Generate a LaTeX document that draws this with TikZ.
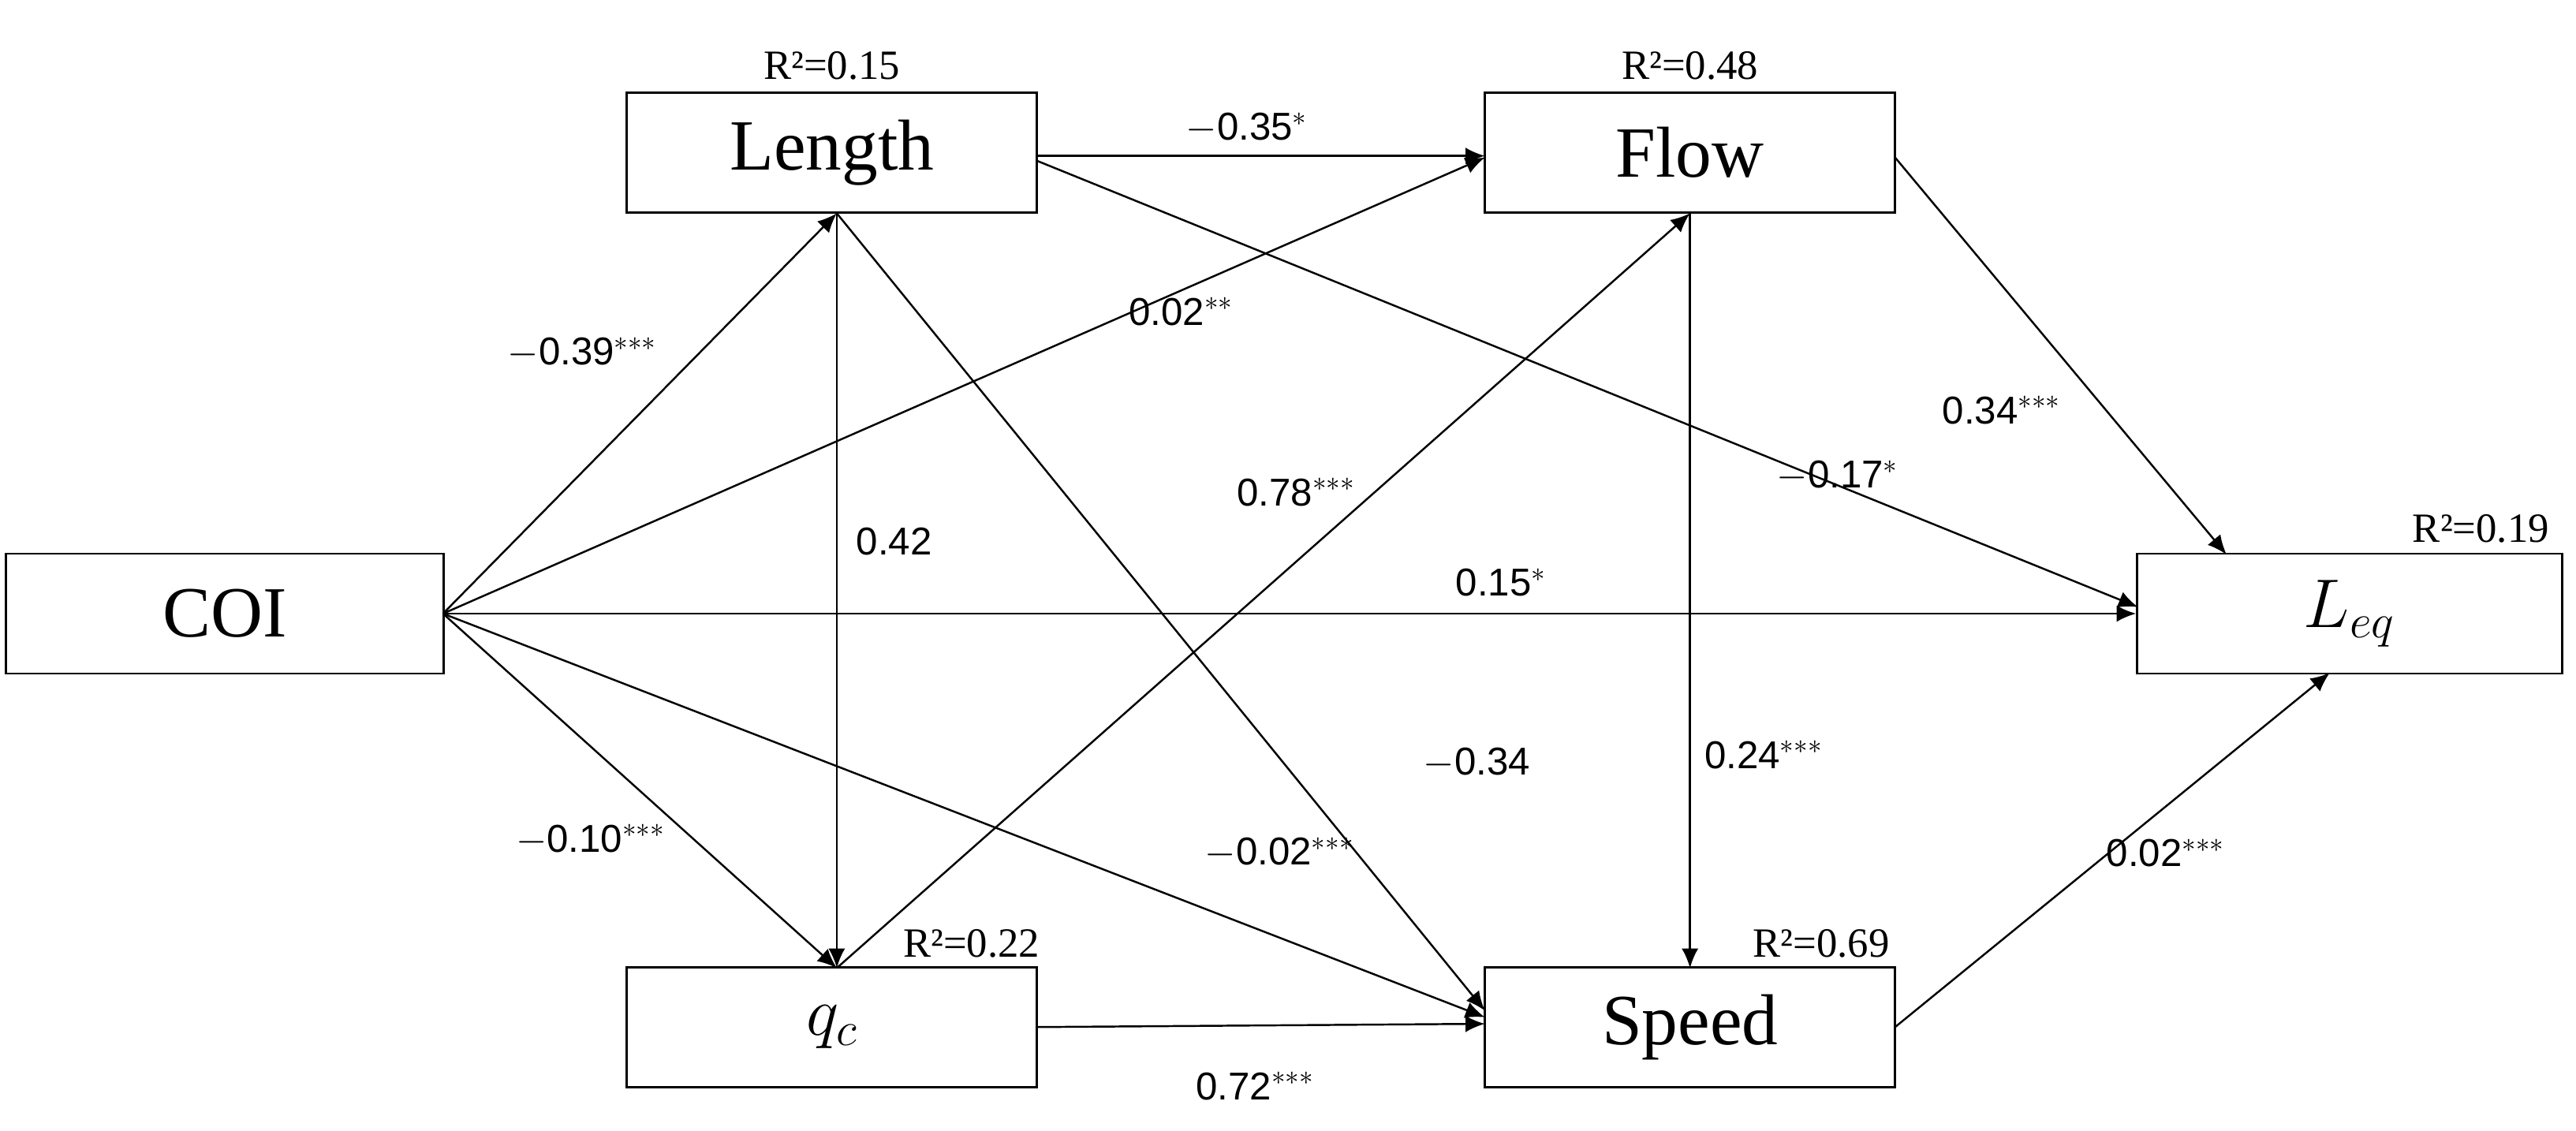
\documentclass[tikz,border=0pt]{standalone}
\usepackage{fontspec}
\setmainfont{Liberation Serif}
\newfontfamily\lab{Liberation Sans}
\usetikzlibrary{arrows.meta}
\begin{document}
\begin{tikzpicture}[x=0.0208cm,y=-0.0208cm,
 box/.style={draw,line width=0.8pt,minimum width=250*0.0208cm,minimum height=73*0.0208cm,inner sep=0pt,font=\fontsize{26}{30}\selectfont},
 arr/.style={-{Latex[length=7pt,width=6pt]},line width=0.7pt},
 lb/.style={font=\lab\fontsize{14}{16}\selectfont},
 rs/.style={font=\fontsize{15}{17}\selectfont}]
\useasboundingbox (0,0) rectangle (1570,689);
\node[box,minimum width=267*0.0208cm] (coi) at (137,374) {COI};
\node[box] (len) at (507,93) {Length};
\node[box] (flow) at (1030,93) {Flow};
\node[box,minimum width=259*0.0208cm] (leq) at (1432,374) {$L_{eq}$};
\node[box] (qc) at (507,626) {$q_c$};
\node[box] (spd) at (1030,626) {Speed};
\coordinate (c) at (270,374);
\coordinate (lb) at (510,130);
\coordinate (qt) at (510,590);
\coordinate (fb) at (1030,130);
\draw[arr] (c) -- (lb);
\draw[arr] (c) -- (905,96);
\draw[arr] (c) -- (leq.west);
\draw[arr] (c) -- (qt);
\draw[arr] (c) -- (905,620);
\draw[arr] (632,95) -- (905,95);
\draw[arr] (632,98) -- (1303,370);
\draw[arr] (lb) -- (qt);
\draw[arr] (lb) -- (905,616);
\draw[arr] (qt) -- (fb);
\draw[arr] (fb) -- (1030,590);
\draw[arr] (1155,96) -- (1357,338);
\draw[arr] (1155,626) -- (1420,410);
\draw[arr] (632,626) -- (905,624);
\node[rs] at (507,40) {R²=0.15};
\node[rs] at (1030,40) {R²=0.48};
\node[rs] at (1512,322) {R²=0.19};
\node[rs] at (592,575) {R²=0.22};
\node[rs] at (1110,575) {R²=0.69};
\node[lb] at (760,78) {$-$0.35$^{*}$};
\node[lb] at (720,190) {0.02$^{**}$};
\node[lb] at (355,215) {$-$0.39$^{***}$};
\node[lb] at (545,330) {0.42};
\node[lb] at (790,300) {0.78$^{***}$};
\node[lb] at (1220,250) {0.34$^{***}$};
\node[lb] at (1120,290) {$-$0.17$^{*}$};
\node[lb] at (915,355) {0.15$^{*}$};
\node[lb] at (900,465) {$-$0.34};
\node[lb] at (1075,460) {0.24$^{***}$};
\node[lb] at (360,512) {$-$0.10$^{***}$};
\node[lb] at (780,520) {$-$0.02$^{***}$};
\node[lb] at (765,662) {0.72$^{***}$};
\node[lb] at (1320,520) {0.02$^{***}$};
\end{tikzpicture}
\end{document}
